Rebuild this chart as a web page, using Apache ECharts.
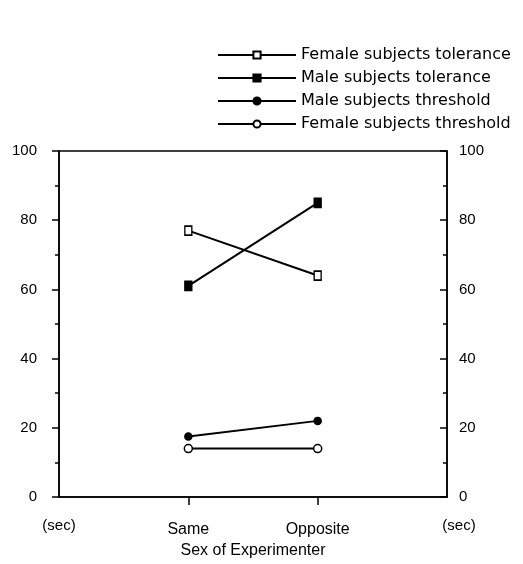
<!DOCTYPE html>
<html>
<head>
<meta charset="utf-8">
<script src="https://cdn.jsdelivr.net/npm/echarts@6/dist/echarts.min.js"></script>
<style>
  html, body { margin: 0; padding: 0; background: #fff; }
  #chart { width: 523px; height: 564px; }
</style>
</head>
<body>
<div id="chart"></div>
<script>
// x positions: outer ends carry the "(sec)" unit labels
var xSlots = ['L', 'Same', 'Opposite', 'R'];
var categories = ['Same', 'Opposite'];

var femaleTolerance = [77, 64];
var maleTolerance = [61, 85];
var maleThreshold = [17.5, 22];
var femaleThreshold = [14, 14];

var seriesNames = [
    'Female subjects tolerance',
    'Male subjects tolerance',
    'Male subjects threshold',
    'Female subjects threshold'
];

function pairs(values) {
    return categories.map(function (c, i) { return [c, values[i]]; });
}

function makeSeries(name, values, symbol, filled, size) {
    return {
        name: name,
        type: 'line',
        data: pairs(values),
        symbol: symbol,
        symbolSize: size,
        showAllSymbol: true,
        lineStyle: { color: '#000', width: 2 },
        itemStyle: { color: filled ? '#000' : '#fff', borderColor: '#000', borderWidth: 1.5 },
        emphasis: { disabled: true }
    };
}

var chart = echarts.init(document.getElementById('chart'));
var font = 'Liberation Sans, Arial, sans-serif';

var option = {
    backgroundColor: '#fff',
    animation: false,
    textStyle: { fontFamily: font, color: '#000' },
    legend: {
        orient: 'vertical',
        left: 212,
        top: 42,
        itemWidth: 78,
        itemHeight: 9,
        itemGap: 7,
        data: seriesNames,
        textStyle: { fontFamily: 'DejaVu Sans', fontSize: 16, color: '#000' },
        selectedMode: false
    },
    grid: {
        left: 59,
        right: 76,
        top: 151,
        bottom: 67,
        show: true,
        borderColor: '#000',
        borderWidth: 1.5
    },
    xAxis: {
        type: 'category',
        data: xSlots,
        boundaryGap: false,
        axisLine: { lineStyle: { color: '#000', width: 1.5 } },
        axisTick: {
            interval: function (i) { return i === 1 || i === 2; },
            length: 8,
            lineStyle: { color: '#000', width: 1.5 }
        },
        axisLabel: {
            interval: 0,
            margin: 21,
            fontSize: 15,
            color: '#000',
            formatter: function (v) {
                if (v === 'L') return '{u|(sec)}';
                if (v === 'R') return '{r|(sec)}';
                return '{c|' + v + '}';
            },
            rich: {
                u: { fontSize: 15, color: '#000' },
                r: { fontSize: 15, color: '#000', padding: [0, 0, 0, 24] },
                c: { fontSize: 16, color: '#000', padding: [4, 0, 0, 0] }
            }
        },
        name: 'Sex of Experimenter',
        nameLocation: 'middle',
        nameGap: 42,
        nameTextStyle: { fontSize: 16, color: '#000' },
        splitLine: { show: false }
    },
    yAxis: [
        {
            type: 'value',
            position: 'left',
            min: 0,
            max: 100,
            interval: 20,
            axisLine: { show: true, lineStyle: { color: '#000', width: 1.5 } },
            axisTick: { show: true, length: 7, lineStyle: { color: '#000', width: 1.5 } },
            minorTick: { show: true, splitNumber: 2, length: 4, lineStyle: { color: '#000', width: 1.5 } },
            axisLabel: { margin: 22, fontSize: 15, color: '#000' },
            splitLine: { show: false }
        },
        {
            type: 'value',
            position: 'right',
            min: 0,
            max: 100,
            interval: 20,
            axisLine: { show: true, lineStyle: { color: '#000', width: 1.5 } },
            axisTick: { show: true, inside: true, length: 7, lineStyle: { color: '#000', width: 1.5 } },
            minorTick: { show: true, splitNumber: 2, length: 4, lineStyle: { color: '#000', width: 1.5 } },
            axisLabel: { margin: 12, fontSize: 15, color: '#000' },
            splitLine: { show: false }
        }
    ],
    series: [
        makeSeries(seriesNames[0], femaleTolerance, 'rect', false, [7, 9]),
        makeSeries(seriesNames[1], maleTolerance, 'rect', true, [7, 9]),
        makeSeries(seriesNames[2], maleThreshold, 'circle', true, 7),
        makeSeries(seriesNames[3], femaleThreshold, 'circle', false, 8)
    ]
};

chart.setOption(option);
</script>
</body>
</html>
